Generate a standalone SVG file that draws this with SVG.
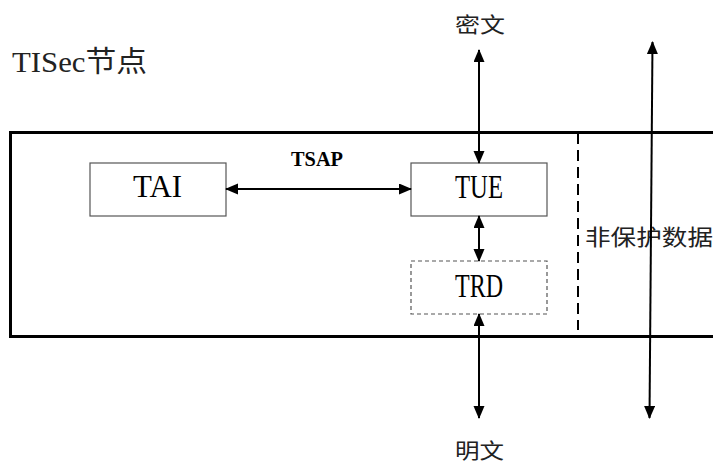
<svg xmlns="http://www.w3.org/2000/svg" width="713" height="462" viewBox="0 0 713 462">
<defs>
<style>
.box{fill:#fff;stroke:#555;stroke-width:1.2}
.dbox{fill:#fff;stroke:#555;stroke-width:1.2;stroke-dasharray:4 3}
.lbl{font-family:"Liberation Serif","Times New Roman",serif;fill:#000}
.cjk{font-family:"Liberation Serif","Noto Sans CJK SC",sans-serif;fill:#222}
.conn{stroke:#000;stroke-width:2;fill:none;marker-start:url(#ah);marker-end:url(#ah)}
</style>
<marker id="ah" markerUnits="userSpaceOnUse" markerWidth="14" markerHeight="12" refX="12" refY="5.5" orient="auto-start-reverse">
<path d="M0,0 L13,5.5 L0,11 Z" fill="#000"/>
</marker>
</defs>
<rect width="713" height="462" fill="#fff"/>
<g id="container">
<path d="M720,132.5 H10.5 V336.5 H720" fill="none" stroke="#000" stroke-width="3"/>
<line x1="578" y1="133" x2="578" y2="330" stroke="#000" stroke-width="2" stroke-dasharray="11 6"/>
</g>
<g id="title">
<text class="cjk" x="12" y="72" font-size="29" textLength="135" lengthAdjust="spacingAndGlyphs">TISec节点</text>
</g>
<g id="TAI">
<rect class="box" x="90" y="163" width="136" height="53"/>
<text class="lbl" x="133" y="197" font-size="31" textLength="49" lengthAdjust="spacingAndGlyphs">TAI</text>
</g>
<g id="TUE">
<rect class="box" x="411" y="163" width="136" height="53"/>
<text class="lbl" x="455" y="198" font-size="33" textLength="48" lengthAdjust="spacingAndGlyphs">TUE</text>
</g>
<g id="TRD">
<rect class="dbox" x="411" y="261" width="136" height="53"/>
<text class="lbl" x="455" y="297" font-size="33" textLength="48" lengthAdjust="spacingAndGlyphs">TRD</text>
</g>
<g id="labels">
<text class="lbl" x="291" y="166" font-size="20" font-weight="bold" textLength="52" lengthAdjust="spacingAndGlyphs">TSAP</text>
<text class="cjk" x="455" y="32" font-size="21" textLength="50" lengthAdjust="spacingAndGlyphs">密文</text>
<text class="cjk" x="455" y="458" font-size="21" textLength="49" lengthAdjust="spacingAndGlyphs">明文</text>
<text class="cjk" x="585" y="245" font-size="22" textLength="128" lengthAdjust="spacingAndGlyphs">非保护数据</text>
</g>
<g id="connectors">
<line class="conn" x1="226" y1="189" x2="411" y2="189"/>
<line class="conn" x1="479" y1="50" x2="479" y2="163"/>
<line class="conn" x1="479" y1="216" x2="479" y2="261"/>
<line class="conn" x1="479" y1="314" x2="479" y2="418"/>
<line class="conn" x1="652.5" y1="42" x2="649.5" y2="418"/>
</g>
</svg>
